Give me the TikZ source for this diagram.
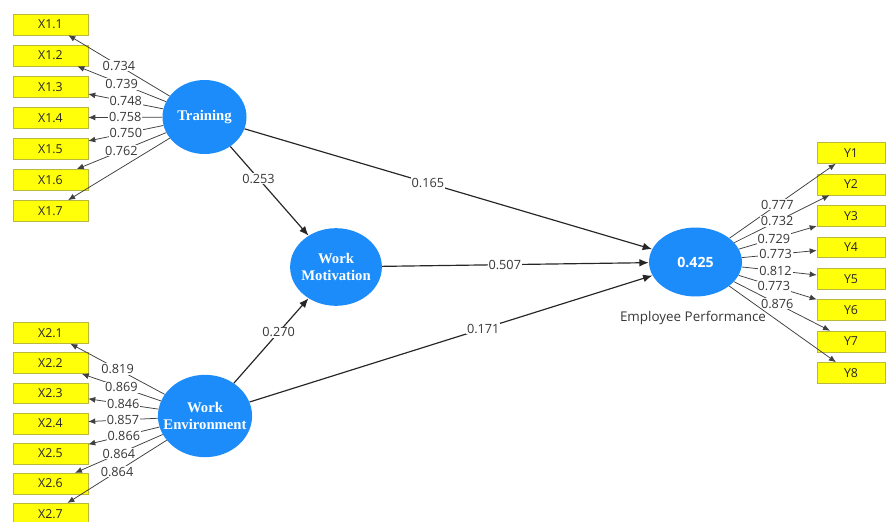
\documentclass[tikz,border=0pt]{standalone}
\usepackage{fontspec}
\setmainfont{Liberation Serif}
\setsansfont{Open Sans}
\usetikzlibrary{positioning, arrows.meta, shapes.geometric}
\definecolor{plsblue}{RGB}{28,140,250}
\definecolor{plsyellow}{RGB}{255,255,10}
\definecolor{plsedge}{RGB}{185,185,60}
\definecolor{plstext}{RGB}{55,55,55}
\tikzset{latent/.style={ellipse, fill=plsblue, inner sep=0pt}}
\tikzset{lattext/.style={text=white, align=center, inner sep=0pt, font=\bfseries\fontsize{12.5}{15}\selectfont}}
\tikzset{indic/.style={rectangle, draw=plsedge, fill=plsyellow, minimum width=63.7pt, minimum height=17.8pt, inner sep=0pt, font=\sffamily\fontsize{10.5}{11}\selectfont, text=black!85}}
\tikzset{indicy/.style={indic, minimum width=57.8pt}}
\tikzset{load/.style={draw=black!75, line width=0.65pt, -{Latex[length=6pt,width=5pt]}}}
\tikzset{struct/.style={draw=black!85, line width=1pt, -{Latex[length=8pt,width=6.5pt]}}}
\tikzset{coef/.style={fill=white, inner sep=0.8pt, font=\sffamily\fontsize{10.8}{11}\selectfont, text=plstext}}

\begin{document}
\begin{tikzpicture}[x=0.85pt, y=-0.85pt]
	\useasboundingbox (0,0) rectangle (886,521);
	% latent variables
	\node[latent, minimum width=71.4pt, minimum height=62.9pt, label={[lattext]center:Training}] (T) at (204.5,117) {};
	\node[latent, minimum width=78pt, minimum height=66pt, label={[lattext]center:Work\\Motivation}] (WM) at (336,267) {};
	\node[latent, minimum width=80pt, minimum height=70pt, label={[lattext]center:Work\\Environment}] (WE) at (205,416) {};
	\node[latent, minimum width=79pt, minimum height=58.6pt, label={[lattext, font=\sffamily\bfseries\fontsize{12}{14}\selectfont]center:0.425}] (EP) at (695.5,262) {};
	\node[font=\sffamily\fontsize{11.4}{13}\selectfont, text=plstext] (EPname) at (693,318) {Employee Performance};
	%
	% indicators of Training
	\node[indic] (X11) at (50.5,24.5) {X1.1};
	\node[indic, below=8.2pt of X11] (X12) {X1.2};
	\node[indic, below=8.2pt of X12] (X13) {X1.3};
	\node[indic, below=8.2pt of X13] (X14) {X1.4};
	\node[indic, below=8.2pt of X14] (X15) {X1.5};
	\node[indic, below=8.2pt of X15] (X16) {X1.6};
	\node[indic, below=8.2pt of X16] (X17) {X1.7};
	% indicators of Work Environment
	\node[indic] (X21) at (50.5,333) {X2.1};
	\node[indic, below=7.4pt of X21] (X22) {X2.2};
	\node[indic, below=7.4pt of X22] (X23) {X2.3};
	\node[indic, below=7.4pt of X23] (X24) {X2.4};
	\node[indic, below=7.4pt of X24] (X25) {X2.5};
	\node[indic, below=7.4pt of X25] (X26) {X2.6};
	\node[indic, below=7.4pt of X26] (X27) {X2.7};
	% indicators of Employee Performance
	\node[indicy] (Y1) at (851,153) {Y1};
	\node[indicy, below=8.5pt of Y1] (Y2) {Y2};
	\node[indicy, below=8.5pt of Y2] (Y3) {Y3};
	\node[indicy, below=8.5pt of Y3] (Y4) {Y4};
	\node[indicy, below=8.5pt of Y4] (Y5) {Y5};
	\node[indicy, below=8.5pt of Y5] (Y6) {Y6};
	\node[indicy, below=8.5pt of Y6] (Y7) {Y7};
	\node[indicy, below=8.5pt of Y7] (Y8) {Y8};
	%
	% outer loadings
	\draw[load] (T) -- node[coef]{0.734} (X11);
	\draw[load] (T) -- node[coef]{0.739} (X12);
	\draw[load] (T) -- node[coef]{0.748} (X13);
	\draw[load] (T) -- node[coef]{0.758} (X14);
	\draw[load] (T) -- node[coef]{0.750} (X15);
	\draw[load] (T) -- node[coef]{0.762} (X16);
	\draw[load] (T) -- (X17);
	\draw[load] (WE) -- node[coef]{0.819} (X21);
	\draw[load] (WE) -- node[coef]{0.869} (X22);
	\draw[load] (WE) -- node[coef]{0.846} (X23);
	\draw[load] (WE) -- node[coef]{0.857} (X24);
	\draw[load] (WE) -- node[coef]{0.866} (X25);
	\draw[load] (WE) -- node[coef]{0.864} (X26);
	\draw[load] (WE) -- node[coef]{0.864} (X27);
	\draw[load] (EP) -- node[coef, pos=0.45]{0.777} (Y1);
	\draw[load] (EP) -- node[coef, pos=0.45]{0.732} (Y2);
	\draw[load] (EP) -- node[coef, pos=0.45]{0.729} (Y3);
	\draw[load] (EP) -- node[coef, pos=0.45]{0.773} (Y4);
	\draw[load] (EP) -- node[coef, pos=0.45]{0.812} (Y5);
	\draw[load] (EP) -- node[coef, pos=0.45]{0.773} (Y6);
	\draw[load] (EP) -- node[coef, pos=0.45]{0.876} (Y7);
	\draw[load] (EP) -- (Y8);
	%
	% inner model
	\draw[struct] (T) -- node[coef, pos=0.45]{0.165} (EP);
	\draw[struct] (T) -- node[coef, pos=0.36]{0.253} (WM);
	\draw[struct] (WM) -- node[coef, pos=0.46]{0.507} (EP);
	\draw[struct] (WE) -- node[coef, pos=0.6]{0.270} (WM);
	\draw[struct] (WE) -- node[coef, pos=0.58]{0.171} (EP);
\end{tikzpicture}
\end{document}
